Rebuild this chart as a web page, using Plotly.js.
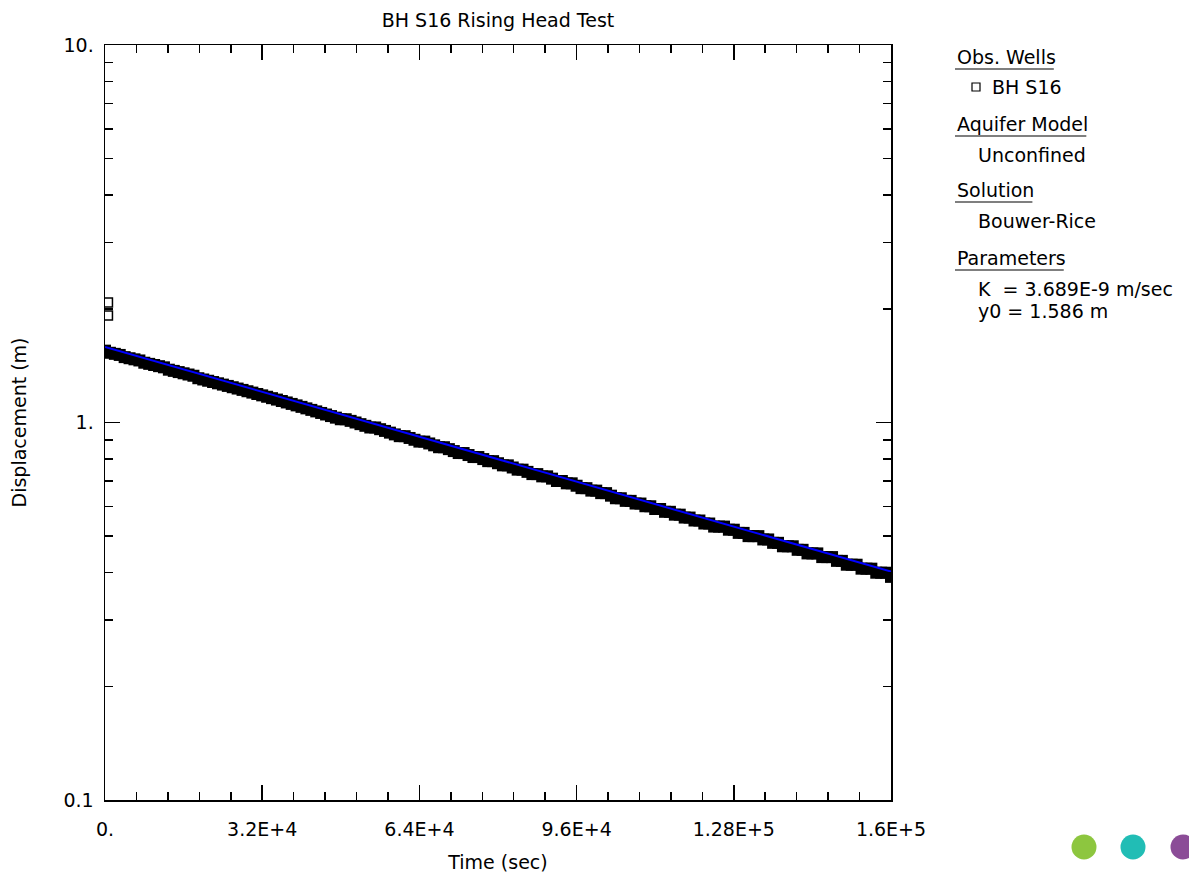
<!DOCTYPE html>
<html>
<head>
<meta charset="utf-8">
<script src="https://cdn.plot.ly/plotly-3.0.1.min.js"></script>
<style>html,body{margin:0;padding:0;background:#fff;}#chart{width:1189px;height:876px;}</style>
</head>
<body>
<div id="chart"></div>
<script>
// Observed data (time in sec, displacement in m)
const timeSec = [0,1000,2000,3000,4000,5000,6000,7000,8000,9000,
10000,11000,12000,13000,14000,15000,16000,17000,18000,19000,
20000,21000,22000,23000,24000,25000,26000,27000,28000,29000,
30000,31000,32000,33000,34000,35000,36000,37000,38000,39000,
40000,41000,42000,43000,44000,45000,46000,47000,48000,49000,
50000,51000,52000,53000,54000,55000,56000,57000,58000,59000,
60000,61000,62000,63000,64000,65000,66000,67000,68000,69000,
70000,71000,72000,73000,74000,75000,76000,77000,78000,79000,
80000,81000,82000,83000,84000,85000,86000,87000,88000,89000,
90000,91000,92000,93000,94000,95000,96000,97000,98000,99000,
100000,101000,102000,103000,104000,105000,106000,107000,108000,109000,
110000,111000,112000,113000,114000,115000,116000,117000,118000,119000,
120000,121000,122000,123000,124000,125000,126000,127000,128000,129000,
130000,131000,132000,133000,134000,135000,136000,137000,138000,139000,
140000,141000,142000,143000,144000,145000,146000,147000,148000,149000,
150000,151000,152000,153000,154000,155000,156000,157000,158000,159000,
160000];
const displacement = [1.55,1.53,1.52,1.51,1.49,1.48,1.47,1.46,1.44,1.43,
1.42,1.41,1.40,1.38,1.37,1.36,1.35,1.34,1.33,1.31,
1.30,1.29,1.28,1.27,1.26,1.25,1.24,1.23,1.22,1.21,
1.20,1.19,1.18,1.17,1.16,1.15,1.14,1.13,1.12,1.11,
1.10,1.09,1.08,1.07,1.06,1.05,1.04,1.03,1.02,1.02,
1.01,1.00,0.99,0.98,0.97,0.97,0.96,0.95,0.94,0.93,
0.92,0.92,0.91,0.90,0.89,0.89,0.88,0.87,0.86,0.86,
0.85,0.84,0.83,0.83,0.82,0.81,0.81,0.80,0.79,0.79,
0.78,0.77,0.77,0.76,0.75,0.75,0.74,0.73,0.73,0.72,
0.72,0.71,0.70,0.70,0.69,0.69,0.68,0.67,0.67,0.66,
0.66,0.65,0.65,0.64,0.63,0.63,0.62,0.62,0.61,0.61,
0.60,0.60,0.59,0.59,0.58,0.58,0.57,0.57,0.56,0.56,
0.55,0.55,0.54,0.54,0.53,0.53,0.53,0.52,0.52,0.51,
0.51,0.50,0.50,0.50,0.49,0.49,0.48,0.48,0.47,0.47,
0.47,0.46,0.46,0.45,0.45,0.45,0.44,0.44,0.44,0.43,
0.43,0.42,0.42,0.42,0.41,0.41,0.41,0.40,0.40,0.40,
0.39];
// Early readings drawn as open squares
const earlyTime = [600, 600];
const earlyDisp = [2.08, 1.92];
// Bouwer-Rice fitted line
const fitTime = [0, 160000];
const fitDisp = [1.586, 0.403];

const xTickVals = [0, 32000, 64000, 96000, 128000, 160000];
const xTickText = ['0.', '3.2E+4', '6.4E+4', '9.6E+4', '1.28E+5', '1.6E+5'];
const yTickVals = [0.1, 1, 10];
const yTickText = ['0.1', '1.', '10.'];
const yMinorVals = [0.2,0.3,0.4,0.5,0.6,0.7,0.8,0.9,2,3,4,5,6,7,8,9];

const legendLines = [
  {text: 'Obs. Wells', x: 955, y: 57, head: true},
  {text: 'BH S16', x: 990, y: 87},
  {text: 'Aquifer Model', x: 955, y: 124, head: true},
  {text: 'Unconfined', x: 976, y: 155},
  {text: 'Solution', x: 955, y: 190, head: true},
  {text: 'Bouwer-Rice', x: 976, y: 221},
  {text: 'Parameters', x: 955, y: 258, head: true},
  {text: 'K  = 3.689E-9 m/sec', x: 976, y: 289},
  {text: 'y0 = 1.586 m', x: 976, y: 311}
];

const W = 1189, H = 876, L = 105, R = 891, T = 45, B = 800;
const px = x => (x - L) / (R - L);
const py = y => (B - y) / (B - T);
const FONT = 'DejaVu Sans, Liberation Sans, Arial, sans-serif';
const FS = 19;

function textWidth(s) {
  const c = document.createElement('canvas').getContext('2d');
  c.font = FS + 'px "DejaVu Sans"';
  return c.measureText(s).width;
}

const annotations = legendLines.map(l => ({
  text: l.text, xref: 'paper', yref: 'paper', x: px(l.x), y: py(l.y),
  xanchor: 'left', yanchor: 'middle', showarrow: false,
  font: {family: FONT, size: FS, color: '#000'}
}));

const shapes = [];
legendLines.filter(l => l.head).forEach(l => {
  const w = textWidth(l.text);
  shapes.push({type: 'line', xref: 'paper', yref: 'paper',
    x0: px(l.x), x1: px(l.x + w), y0: py(l.y + 12), y1: py(l.y + 12),
    line: {color: '#000', width: 1.2}});
});
// legend marker square
shapes.push({type: 'rect', xref: 'paper', yref: 'paper',
  x0: px(972), x1: px(980), y0: py(83), y1: py(91),
  line: {color: '#000', width: 1.2}, fillcolor: 'rgba(0,0,0,0)'});
// decorative dots
[[1084, '#8dc63f'], [1133, '#21bdb5'], [1183, '#8b4c97']].forEach(d => {
  shapes.push({type: 'circle', xref: 'paper', yref: 'paper',
    x0: px(d[0] - 12.5), x1: px(d[0] + 12.5), y0: py(847 + 12.5), y1: py(847 - 12.5),
    line: {width: 0}, fillcolor: d[1]});
});

const traces = [
  {x: timeSec, y: displacement, type: 'scatter', mode: 'markers',
   marker: {symbol: 'square', size: 12, color: '#000', line: {width: 0}},
   name: 'BH S16', hoverinfo: 'x+y'},
  {x: earlyTime, y: earlyDisp, type: 'scatter', mode: 'markers',
   marker: {symbol: 'square-open', size: 9, color: '#000', line: {width: 1.5}},
   name: 'BH S16 early'},
  {x: fitTime, y: fitDisp, type: 'scatter', mode: 'lines',
   line: {color: '#0000ff', width: 2}, name: 'Bouwer-Rice'}
];

const layout = {
  width: W, height: H,
  margin: {l: L, r: W - R, t: T, b: H - B, pad: 0},
  paper_bgcolor: '#fff', plot_bgcolor: '#fff',
  showlegend: false,
  font: {family: FONT, size: FS, color: '#000'},
  title: {text: 'BH S16 Rising Head Test', font: {family: FONT, size: FS, color: '#000'},
    xref: 'paper', x: 0.5, xanchor: 'center', yref: 'container', y: 1 - 20 / H, yanchor: 'middle'},
  xaxis: {
    range: [0, 160000], showgrid: false, zeroline: false,
    showline: true, linecolor: '#000', linewidth: 1.5, mirror: 'ticks',
    ticks: 'inside', ticklen: 15, tickwidth: 1.5, tickcolor: '#000',
    tickmode: 'array', tickvals: xTickVals, ticktext: xTickText,
    ticklabelstandoff: 12,
    minor: {dtick: 6400, ticks: 'inside', ticklen: 8, tickwidth: 1.5, tickcolor: '#000', showgrid: false},
    title: {text: 'Time (sec)', font: {family: FONT, size: FS, color: '#000'}, standoff: 16},
    automargin: false
  },
  yaxis: {
    type: 'log', range: [-1, 1], showgrid: false, zeroline: false,
    showline: true, linecolor: '#000', linewidth: 1.5, mirror: 'ticks',
    ticks: 'inside', ticklen: 15, tickwidth: 1.5, tickcolor: '#000',
    tickmode: 'array', tickvals: yTickVals, ticktext: yTickText,
    ticklabelstandoff: 6,
    minor: {tickmode: 'array', tickvals: yMinorVals, ticks: 'inside', ticklen: 8, tickwidth: 1.5, tickcolor: '#000', showgrid: false},
    title: {text: 'Displacement (m)', font: {family: FONT, size: FS, color: '#000'}, standoff: 32},
    automargin: false
  },
  annotations: annotations,
  shapes: shapes
};

Plotly.newPlot('chart', traces, layout, {displayModeBar: false, staticPlot: true});
</script>
</body>
</html>
